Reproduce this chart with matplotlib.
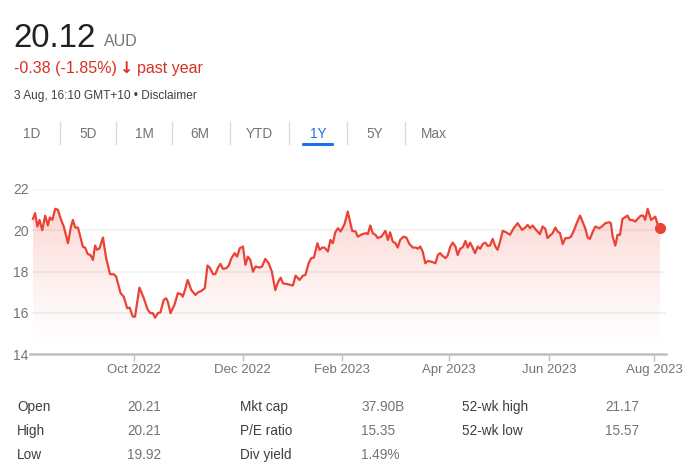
import matplotlib.pyplot as plt
import numpy as np
from matplotlib.patches import FancyBboxPatch

plt.rcParams['font.family'] = ['Liberation Sans', 'DejaVu Sans']

# trading session number (0 = 3 Aug 2022) and closing price in AUD
session = [0, 0.9, 1.8, 2.7, 3.8, 5.0, 6.1, 6.9, 7.9, 9.1, 10.2, 11.5, 12.6, 14.3, 15.4, 16.3,
           17.3, 18.4, 20.4, 21.3, 22.4, 23.5, 24.5, 25.4, 26.2, 27.2, 28.6, 29.9, 31.5, 33.0,
           34.0, 35.8, 37.1, 38.5, 39.5, 40.8, 41.7, 43.5, 45.3, 46.9, 48.0, 49.0, 49.9, 51.0,
           52.1, 53.4, 54.4, 55.1, 56.2, 57.8, 59.2, 60.5, 61.2, 62.1, 63.2, 64.7, 66.4, 67.4,
           68.8, 70.2, 71.3, 72.2, 73.6, 74.5, 75.6, 76.6, 77.6, 79.0, 80.0, 81.1, 82.4, 83.4,
           84.5, 85.8, 86.8, 87.8, 88.8, 89.9, 90.9, 92.6, 93.6, 94.9, 96.3, 97.6, 99.0, 100.1,
           101.2, 102.1, 104.2, 106.2, 107.3, 108.9, 110.3, 111.3, 112.6, 113.7, 114.8, 116.2,
           117.1, 118.2, 119.1, 120.5, 121.5, 122.5, 123.5, 124.6, 125.7, 127.3, 128.6, 130.4,
           131.8, 132.7, 134.5, 136.1, 136.8, 137.8, 138.8, 139.9, 140.9, 142.3, 144.0, 145.0,
           145.9, 147.0, 148.1, 149.0, 150.0, 151.4, 152.5, 153.8, 155.2, 156.5, 157.2, 158.2,
           159.2, 160.3, 161.3, 162.7, 164.4, 165.4, 166.3, 167.2, 168.5, 169.4, 170.5, 171.5,
           172.6, 173.5, 174.5, 175.6, 176.7, 177.6, 178.6, 179.6, 180.6, 181.7, 182.7, 183.7,
           184.8, 185.8, 186.7, 187.8, 188.9, 189.8, 190.8, 191.9, 193.3, 194.9, 196.2, 198.0,
           199.8, 201.1, 202.1, 203.1, 204.1, 205.5, 207.1, 208.2, 209.3, 210.2, 211.2, 212.3,
           213.4, 214.3, 215.3, 216.4, 217.5, 218.8, 219.8, 221.1, 222.1, 223.5, 224.5, 225.6,
           226.6, 227.5, 228.6, 229.7, 231.3, 232.4, 233.8, 235.4, 236.1, 236.8, 237.9, 238.8,
           239.8, 240.8, 242.9, 243.8, 244.9, 246.0, 247.0, 248.3, 249.3, 250.1, 251.1, 252.5,
           254.2, 255.5, 256.2]
price = [20.55, 20.83, 20.18, 20.5, 20.0, 20.71, 20.23, 20.62, 20.5, 21.04, 20.99, 20.5, 20.18,
         19.37, 20.1, 20.5, 20.13, 20.13, 19.2, 19.16, 18.84, 18.8, 18.56, 19.26, 19.05, 19.13,
         19.65, 18.65, 17.87, 17.87, 17.75, 16.95, 16.78, 16.22, 16.25, 15.81, 15.81, 17.22,
         16.7, 16.14, 15.98, 15.98, 15.76, 15.98, 16.02, 16.62, 16.7, 16.54, 15.98, 16.38,
         16.95, 16.9, 16.78, 17.1, 17.59, 17.1, 16.86, 16.99, 17.06, 17.19, 18.29, 18.19,
         17.87, 17.87, 18.19, 18.37, 18.13, 18.16, 18.29, 18.65, 18.89, 18.72, 19.13, 19.21,
         18.32, 18.72, 18.56, 17.99, 18.24, 18.19, 18.24, 18.61, 18.4, 17.99, 17.1, 17.48,
         17.7, 17.43, 17.38, 17.32, 17.8, 17.59, 17.8, 17.83, 18.4, 18.65, 18.68, 19.37, 19.05,
         19.16, 19.16, 18.97, 19.53, 19.37, 19.9, 20.1, 19.94, 20.3, 20.91, 19.97, 19.94, 19.69,
         19.81, 19.86, 19.81, 20.23, 19.86, 19.78, 19.62, 19.69, 19.97, 19.53, 19.9, 19.45,
         19.37, 19.16, 19.53, 19.69, 19.65, 19.33, 19.16, 19.16, 19.1, 19.21, 18.97, 18.4,
         18.51, 18.48, 18.4, 18.8, 18.89, 18.77, 18.65, 18.77, 19.21, 19.4, 19.21, 18.8, 19.1,
         19.18, 19.48, 19.16, 19.4, 19.16, 18.89, 19.21, 19.1, 19.33, 19.4, 19.24, 19.26,
         19.58, 19.21, 19.05, 19.45, 19.97, 19.9, 19.78, 20.07, 20.34, 20.02, 20.13,
         20.26, 20.1, 20.23, 20.02, 19.81, 20.18, 20.07, 19.62, 19.74, 19.86, 20.13, 19.94,
         19.86, 19.33, 19.62, 19.62, 19.69, 20.02, 20.34, 20.71, 20.42, 20.1, 19.65, 19.58,
         19.9, 20.18, 20.1, 20.18, 20.34, 20.39, 20.34, 19.69, 19.26, 19.78, 19.78, 20.55,
         20.71, 20.5, 20.5, 20.42, 20.55, 20.71, 20.71, 20.5, 21.04, 20.5, 20.66, 20.18, 20.12]

tick_pos = [41.2, 85.7, 126.1, 169.8, 211.0, 253.9]
tick_labels = ['Oct 2022', 'Dec 2022', 'Feb 2023', 'Apr 2023', 'Jun 2023', 'Aug 2023']
ranges = ['1D', '5D', '1M', '6M', 'YTD', '1Y', '5Y', 'Max']
range_x = [32, 88, 144, 200, 259, 318, 375, 434]
stat_labels = [['Open', 'High', 'Low'], ['Mkt cap', 'P/E ratio', 'Div yield'], ['52-wk high', '52-wk low']]
stat_values = [['20.21', '20.21', '19.92'], ['37.90B', '15.35', '1.49%'], ['21.17', '15.57']]

RED = '#ea4335'
GREY = '#70757a'
W, H = 690, 475

fig = plt.figure(figsize=(W / 100, H / 100), dpi=100)


def px(x, y):
    return x / W, 1 - y / H


# header
fig.text(*px(13, 47), '20.12', fontsize=23.8, color='#202124', va='baseline')
fig.text(*px(104, 46), 'AUD', fontsize=11.5, color=GREY, va='baseline')
fig.text(*px(14, 73), '-0.38 (-1.85%)', fontsize=11.5, color='#d93025', va='baseline')
fig.text(*px(120, 73), '\u2193', fontsize=11.5, color='#d93025', va='baseline',
         fontweight='bold', family=['DejaVu Sans'])
fig.text(*px(137, 73), 'past year', fontsize=11.5, color='#d93025', va='baseline')
fig.text(*px(14, 99), '3 Aug, 16:10 GMT+10 \u2022 Disclaimer', fontsize=8.6,
         color='#3c4043', va='baseline')

# range tabs
for i, (lab, x) in enumerate(zip(ranges, range_x)):
    col = '#1a73e8' if lab == '1Y' else GREY
    fig.text(*px(x, 138), lab, fontsize=9.8, color=col, ha='center', va='baseline')
    if i < len(ranges) - 1:
        sx = (x + range_x[i + 1]) / 2
        fig.add_artist(plt.Line2D([sx / W] * 2, [1 - 122 / H, 1 - 144 / H], color='#dadce0', lw=1))
fig.add_artist(FancyBboxPatch(px(302, 146), 32 / W, 3 / H, boxstyle='round,pad=0,rounding_size=0.002',
                              transform=fig.transFigure, color='#1a73e8', lw=0))

# chart
ax = fig.add_axes([30 / W, (H - 354) / H, 636 / W, 165 / H])
ax.set_xlim(-1.2, 258.6)
ax.set_ylim(14, 22)
for v in [16, 18, 20, 22]:
    ax.axhline(v, color='#f1f3f4', lw=1.5, zorder=0, xmin=0.005)
ax.axhline(14, color='#bdc1c6', lw=1.8, zorder=3, clip_on=False)

fill = ax.fill_between(session, price, 14, color='none', lw=0)
grad = np.linspace(0, 1, 256).reshape(-1, 1)
grad_img = np.zeros((256, 1, 4))
grad_img[..., 0] = 0xea / 255
grad_img[..., 1] = 0x43 / 255
grad_img[..., 2] = 0x35 / 255
grad_img[..., 3] = 0.26 * grad ** 1.4
im = ax.imshow(grad_img, extent=[session[0], session[-1], 14, 22], origin='lower',
               aspect='auto', zorder=1)
im.set_clip_path(fill.get_paths()[0], transform=ax.transData)

ax.plot(session, price, color=RED, lw=1.6, zorder=4, solid_joinstyle='round')
ax.plot(session[-1], price[-1], 'o', color=RED, ms=7, zorder=5, clip_on=False)

for s in ax.spines.values():
    s.set_visible(False)
ax.set_yticks([14, 16, 18, 20, 22])
ax.tick_params(axis='y', length=0, pad=1, labelsize=10, labelcolor=GREY)
ax.set_xticks(tick_pos)
ax.set_xticklabels(tick_labels)
ax.tick_params(axis='x', length=5, width=1, color='#bdc1c6', pad=2, labelsize=9.5, labelcolor=GREY)

# stats table
col_x = [(17, 127), (240, 361), (462, 605)]
row_y = [407, 431, 455]
for (lx, vx), labs, vals in zip(col_x, stat_labels, stat_values):
    for lab, val, y in zip(labs, vals, row_y):
        fig.text(*px(lx, y), lab, fontsize=9.8, color='#3c4043', va='center')
        fig.text(*px(vx, y), val, fontsize=9.8, color=GREY, va='center')

fig.savefig('out.png', dpi=100)
